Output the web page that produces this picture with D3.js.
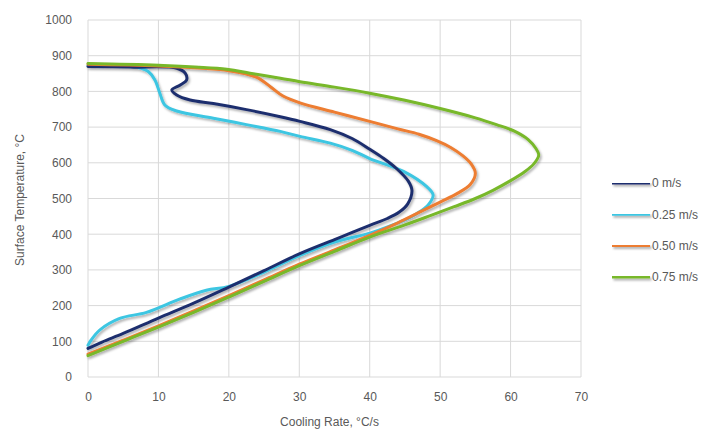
<!DOCTYPE html>
<html><head><meta charset="utf-8">
<script src="https://cdnjs.cloudflare.com/ajax/libs/d3/7.8.5/d3.min.js"></script>
<style>body{margin:0;background:#fff}svg{display:block}text{font-family:"Liberation Sans",Arial,sans-serif;fill:#595959}</style>
</head><body><svg id="c" width="714" height="435"></svg>
<script>
const xTicks = [0,10,20,30,40,50,60,70];
const yTicks = [0,100,200,300,400,500,600,700,800,900,1000];
const seriesNames = ["0 m/s","0.25 m/s","0.50 m/s","0.75 m/s"];
const seriesColors = ["#1f2f6e","#3cc6e2","#ed7d31","#78b82a"];
// [cooling rate °C/s, surface temperature °C], ordered from start (hot) to end (cold)
const s0 = [[0,870],[6,868],[12.6,865],[13.8,851],[14,832],[13.1,818],[11.9,804],[12.6,790],[14.5,776],[17.8,766],[22.5,749],[27.3,729],[30.1,716],[34.4,693],[37.5,668],[40,638],[42,612],[43.8,584],[45.5,548],[46,522],[45.4,485],[44.2,462],[42.5,444],[40,425],[37,401],[35,385],[30,345],[25,298],[20,252],[15,207],[10,165],[5,122],[2,98],[0,80]];
const s1 = [[0,872],[5,870],[7.1,867],[8.6,855],[9.5,832],[10.2,795],[10.9,762],[12.6,745],[17.8,725],[22.5,707],[27.3,688],[30.1,674],[34.4,655],[37.5,635],[40,612],[44.8,576],[48.1,533],[49,510],[48.3,482],[46.7,458],[45,440],[43,424],[40,403],[35,378],[30,340],[25,294],[20,254],[16.8,243],[13,218],[8.3,181],[4.5,164],[1.7,132],[0.5,105],[0,89]];
const s2 = [[0,876],[10,871],[20,858],[23.9,840],[25.9,813],[27.7,787],[30.1,768],[35,742],[40,716],[44,695],[47,680],[49.5,662],[51.5,643],[53.2,620],[54.4,597],[55,571],[54.3,540],[52.5,515],[50,490],[47,461],[44,432],[40,397],[35,356],[30,316],[25,272],[20,228],[15,185],[10,143],[5,103],[0,64]];
const s3 = [[0,878],[10,873],[19.7,862],[23,851],[27.3,837],[30.1,827],[35,812],[40,795],[45,775],[50,752],[55,726],[58,707],[60.4,690],[62.5,665],[63.6,640],[64,622],[63.3,597],[62,575],[60,550],[57.5,523],[55,500],[52,477],[48.6,452],[45,426],[40,392],[35,352],[30,312],[25,268],[20,224],[15,181],[10,140],[5,100],[0,60]];
const allSeries = [s0,s1,s2,s3];
const drawOrder = [1,0,2,3];

const svg = d3.select("#c");
const L=88,R=581,T=20,B=377;
const x = d3.scaleLinear().domain([0,70]).range([L,R]);
const y = d3.scaleLinear().domain([0,1000]).range([B,T]);

const defs = svg.append("defs");
const f = defs.append("filter").attr("id","sh").attr("filterUnits","userSpaceOnUse")
  .attr("x",0).attr("y",0).attr("width",714).attr("height",435);
f.append("feDropShadow").attr("dx",1.5).attr("dy",2).attr("stdDeviation",1.2).attr("flood-color","#000").attr("flood-opacity",0.3);

// gridlines
svg.append("g").selectAll("line").data(yTicks).join("line")
  .attr("x1",L).attr("x2",R).attr("y1",d=>y(d)).attr("y2",d=>y(d))
  .attr("stroke","#d9d9d9").attr("stroke-width",1);
svg.append("g").selectAll("line").data(xTicks).join("line")
  .attr("y1",T).attr("y2",B).attr("x1",d=>x(d)).attr("x2",d=>x(d))
  .attr("stroke","#d9d9d9").attr("stroke-width",1);

// axes labels via d3 axes
const ax = svg.append("g").attr("transform",`translate(0,${B+20})`)
  .call(d3.axisBottom(x).tickValues(xTicks).tickFormat(d3.format("d")).tickSize(0).tickPadding(0));
ax.select(".domain").remove();
ax.selectAll("text").attr("font-size",12).attr("fill","#595959").attr("dy","0.35em").attr("y",0);
const ay = svg.append("g").attr("transform",`translate(${L-16},0)`)
  .call(d3.axisLeft(y).tickValues(yTicks).tickFormat(d3.format("d")).tickSize(0).tickPadding(0));
ay.select(".domain").remove();
ay.selectAll("text").attr("font-size",12).attr("fill","#595959");
svg.selectAll(".tick text").style("font-family","'Liberation Sans',Arial,sans-serif");

// titles
svg.append("text").attr("x",(L+R)/2-5).attr("y",426).attr("text-anchor","middle").attr("font-size",12).text("Cooling Rate, °C/s");
svg.append("text").attr("transform","translate(24,200) rotate(-90)").attr("text-anchor","middle").attr("font-size",12).text("Surface Temperature, °C");

// lines
const line = d3.line().x(d=>x(d[0])).y(d=>y(d[1])).curve(d3.curveCatmullRom.alpha(0.5));
svg.append("g").attr("filter","url(#sh)").selectAll("path").data(drawOrder).join("path")
  .attr("d",i=>line(allSeries[i])).attr("fill","none").attr("stroke",i=>seriesColors[i])
  .attr("stroke-width",3).attr("stroke-linejoin","round").attr("stroke-linecap","round");

// legend
const lg = svg.append("g").selectAll("g").data(seriesNames).join("g")
  .attr("transform",(d,i)=>`translate(612,${183+i*31.3})`);
lg.append("line").attr("x1",0).attr("x2",38).attr("y1",0).attr("y2",0).attr("stroke",(d,i)=>seriesColors[i]).attr("stroke-width",3).attr("filter","url(#sh)");
lg.append("text").attr("x",40).attr("dy","0.35em").attr("font-size",12).text(d=>d);
</script></body></html>
